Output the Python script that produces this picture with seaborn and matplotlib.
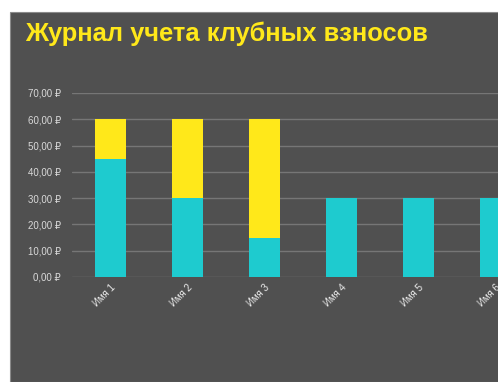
import matplotlib
matplotlib.use("Agg")
import matplotlib.pyplot as plt
from matplotlib.patches import Rectangle
from matplotlib.ticker import FuncFormatter
import seaborn as sns

names = ["Имя 1", "Имя 2", "Имя 3", "Имя 4", "Имя 5", "Имя 6"]
paid = [45, 30, 15, 30, 30, 30]
remaining = [15, 30, 45, 0, 0, 0]
title = "Журнал учета клубных взносов"

teal = "#1ecbcf"
yellow = "#ffe81a"
panel = "#505050"

sns.set_style("dark")
plt.rcParams["font.family"] = ["Liberation Sans", "DejaVu Sans"]

W, H = 498, 382
fig = plt.figure(figsize=(W / 100, H / 100), dpi=100, facecolor="white")

# dark chart panel, cropped on the right like the screenshot
fig.patches.append(Rectangle((10 / W, 0), 1, (H - 12) / H, transform=fig.transFigure,
                             facecolor=panel, edgecolor="#8a8a8a", linewidth=0.8, zorder=-5))
fig.text(25 / W, 1 - 41 / H, title, color=yellow, fontsize=18.4, fontweight="bold",
         ha="left", va="baseline")

ax = fig.add_axes([72 / W, 105 / H, 462 / W, 184 / H])
ax.set_facecolor("none")
ax.set_zorder(2)

total = [p + r for p, r in zip(paid, remaining)]
sns.barplot(x=names, y=total, color=yellow, width=0.4, saturation=1,
            edgecolor="none", ax=ax, zorder=3)
sns.barplot(x=names, y=paid, color=teal, width=0.4, saturation=1,
            edgecolor="none", ax=ax, zorder=4)

ax.set_ylim(0, 70)
ax.set_xlim(-0.5, 5.5)
ax.set_yticks(range(0, 71, 10))
ax.yaxis.set_major_formatter(FuncFormatter(lambda v, p: f"{v:.2f}".replace(".", ",") + " ₽"))
ax.grid(axis="y", color="#767676", linewidth=1)
ax.grid(axis="x", visible=False)
for s in ax.spines.values():
    s.set_visible(False)
ax.tick_params(axis="y", length=0, pad=8, labelsize=7, labelcolor="#d9d9d9")
ax.tick_params(axis="x", length=0, pad=4, labelsize=7, labelcolor="#ececec")
plt.setp(ax.get_xticklabels(), rotation=45, ha="right", rotation_mode="anchor")
ax.set_xlabel("")
ax.set_ylabel("")

fig.savefig("out.png", dpi=100, facecolor="white")
